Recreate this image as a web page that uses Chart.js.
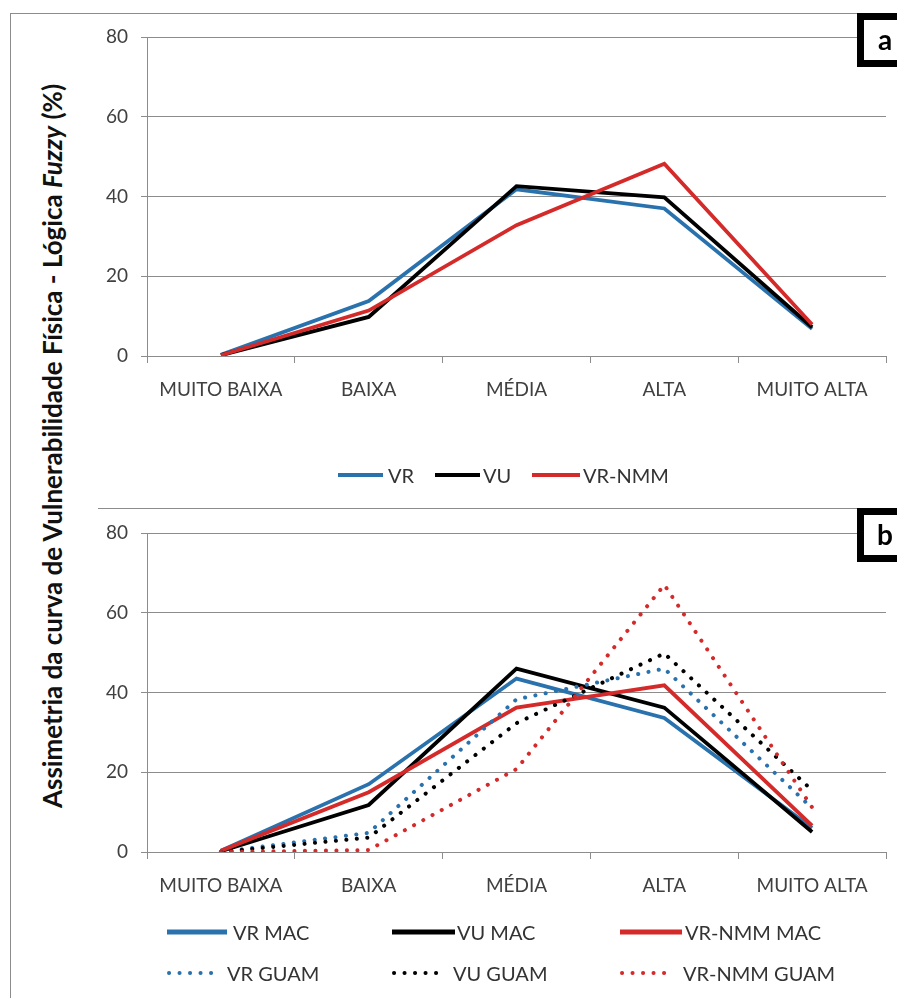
<!DOCTYPE html>
<html>
<head>
<meta charset="utf-8">
<script src="https://cdn.jsdelivr.net/npm/chart.js@4.4.1/dist/chart.umd.min.js"></script>
<style>
  html, body { margin: 0; padding: 0; background: #fff; }
  body { width: 897px; height: 998px; position: relative; overflow: hidden; font-family: Lato, sans-serif; }
  canvas { position: absolute; left: 0; }
  #chartA { top: 0; }
  #chartB { top: 500px; }
  .rule { position: absolute; background: #8c8c8c; }
  #ytitle {
    position: absolute; left: 52px; top: 446px;
    transform: translate(-50%, -50%) rotate(-90deg);
    white-space: nowrap; font: bold 26px Lato, sans-serif; color: #111;
  }
</style>
</head>
<body>
<div class="rule" style="left:10px;top:13px;width:1px;height:985px;"></div>
<div class="rule" style="left:10px;top:13px;width:887px;height:1px;"></div>
<div class="rule" style="left:98px;top:508px;width:799px;height:1px;"></div>
<div id="ytitle">Assimetria da curva de Vulnerabilidade Física - Lógica <i>Fuzzy</i> (%)</div>
<canvas id="chartA" width="897" height="500"></canvas>
<canvas id="chartB" width="897" height="498"></canvas>
<script>
// Vulnerability classes on the x axis
const categories = ['MUITO BAIXA', 'BAIXA', 'MÉDIA', 'ALTA', 'MUITO ALTA'];

// Panel a (%)
const vrA    = [0.3, 13.8, 41.8, 37.0, 6.8];
const vuA    = [0.2, 9.8, 42.6, 39.8, 7.2];
const vrNmmA = [0.2, 11.4, 32.8, 48.2, 7.9];

// Panel b (%)
const vrMac     = [0.3, 17.0, 43.5, 33.6, 6.0];
const vuMac     = [0.2, 11.8, 46.0, 36.2, 5.0];
const vrNmmMac  = [0.3, 15.0, 36.2, 41.8, 6.6];
const vrGuam    = [0.0, 4.8, 38.3, 46.0, 11.0];
const vuGuam    = [0.0, 3.6, 32.3, 49.8, 15.5];
const vrNmmGuam = [0.0, 0.5, 20.8, 67.0, 11.2];

// Value axis range and step
const yMin = 0, yMax = 80, yStep = 20;

const BLUE = '#2a72ad';
const BLACK = '#000000';
const RED = '#d42a2a';
const GRID = '#8c8c8c';
const TEXT = '#404040';
const DOTS = [0.1, 10.4];

function solid(label, data, color, order) {
  return { label, data, borderColor: color, backgroundColor: color, borderWidth: 3.8,
           pointRadius: 0, tension: 0, order };
}
function dotted(label, data, color, order) {
  return { label, data, borderColor: color, backgroundColor: color, borderWidth: 4,
           borderDash: DOTS, borderCapStyle: 'round', pointRadius: 0, tension: 0, order };
}

// Legend drawn from the datasets, laid out in fixed columns
const lineLegend = {
  id: 'lineLegend',
  afterDraw(chart, args, opts) {
    const ctx = chart.ctx;
    ctx.save();
    opts.items.forEach(it => {
      const ds = chart.data.datasets[it.index];
      ctx.beginPath();
      ctx.strokeStyle = ds.borderColor;
      ctx.lineWidth = it.lw;
      ctx.setLineDash(ds.borderDash || []);
      ctx.lineCap = ds.borderDash ? 'round' : 'butt';
      ctx.moveTo(it.x1, it.y);
      ctx.lineTo(it.x2, it.y);
      ctx.stroke();
      ctx.setLineDash([]);
      ctx.fillStyle = '#333';
      ctx.font = '20px Lato, sans-serif';
      ctx.textBaseline = 'middle';
      ctx.textAlign = 'left';
      ctx.fillText(ds.label, it.tx, it.y + 2);
    });
    ctx.restore();
  }
};

// Panel letter in a heavy black frame
const panelTag = {
  id: 'panelTag',
  afterDraw(chart, args, o) {
    const ctx = chart.ctx;
    ctx.save();
    ctx.fillStyle = '#fff';
    ctx.fillRect(o.x, o.y, o.w, o.h);
    ctx.lineWidth = 7;
    ctx.strokeStyle = '#000';
    ctx.strokeRect(o.x + 3.5, o.y + 3.5, o.w - 7, o.h - 7);
    ctx.fillStyle = '#000';
    ctx.font = 'bold 28px Lato, sans-serif';
    ctx.textAlign = 'center';
    ctx.textBaseline = 'middle';
    ctx.fillText(o.letter, o.x + 28, o.y + o.h / 2 + 1);
    ctx.restore();
  }
};

function scales() {
  return {
    x: {
      type: 'category',
      offset: true,
      grid: { offset: true, drawOnChartArea: false, drawTicks: true, tickLength: 7, color: GRID },
      border: { display: true, color: GRID, width: 1 },
      ticks: { color: TEXT, font: { family: 'Lato', size: 19 }, padding: 15, maxRotation: 0, autoSkip: false },
      afterFit: s => { s.height = 50; }
    },
    y: {
      min: yMin, max: yMax,
      grid: { color: GRID, tickLength: 6, drawTicks: true },
      border: { display: true, color: GRID, width: 1 },
      ticks: { stepSize: yStep, color: TEXT, font: { family: 'Lato', size: 19 }, padding: 13 },
      afterFit: s => { s.width = 60; }
    }
  };
}

new Chart(document.getElementById('chartA'), {
  type: 'line',
  data: {
    labels: categories,
    datasets: [
      solid('VR', vrA, BLUE, 2),
      solid('VU', vuA, BLACK, 1),
      solid('VR-NMM', vrNmmA, RED, 0)
    ]
  },
  options: {
    responsive: false,
    animation: false,
    layout: { padding: { left: 87, right: 11, top: 37, bottom: 94 } },
    scales: scales(),
    plugins: {
      legend: { display: false },
      tooltip: { enabled: false },
      lineLegend: { items: [
        { index: 0, x1: 338, x2: 383, tx: 388, y: 475, lw: 4 },
        { index: 1, x1: 435, x2: 480, tx: 483, y: 475, lw: 4 },
        { index: 2, x1: 532, x2: 580, tx: 583, y: 475, lw: 4 }
      ] },
      panelTag: { letter: 'a', x: 857, y: 13, w: 50, h: 54 }
    }
  },
  plugins: [lineLegend, panelTag]
});

new Chart(document.getElementById('chartB'), {
  type: 'line',
  data: {
    labels: categories,
    datasets: [
      solid('VR MAC', vrMac, BLUE, 5),
      solid('VU MAC', vuMac, BLACK, 4),
      solid('VR-NMM MAC', vrNmmMac, RED, 3),
      dotted('VR GUAM', vrGuam, BLUE, 2),
      dotted('VU GUAM', vuGuam, BLACK, 1),
      dotted('VR-NMM GUAM', vrNmmGuam, RED, 0)
    ]
  },
  options: {
    responsive: false,
    animation: false,
    layout: { padding: { left: 87, right: 11, top: 33, bottom: 96 } },
    scales: scales(),
    plugins: {
      legend: { display: false },
      tooltip: { enabled: false },
      lineLegend: { items: [
        { index: 0, x1: 167, x2: 227, tx: 233, y: 432, lw: 5 },
        { index: 1, x1: 392, x2: 455, tx: 457, y: 432, lw: 5 },
        { index: 2, x1: 620, x2: 682, tx: 685, y: 432, lw: 5 },
        { index: 3, x1: 169, x2: 221, tx: 227, y: 473, lw: 4 },
        { index: 4, x1: 394, x2: 446, tx: 453, y: 473, lw: 4 },
        { index: 5, x1: 622, x2: 674, tx: 683, y: 473, lw: 4 }
      ] },
      panelTag: { letter: 'b', x: 857, y: 8, w: 50, h: 54 }
    }
  },
  plugins: [lineLegend, panelTag]
});
</script>
</body>
</html>
